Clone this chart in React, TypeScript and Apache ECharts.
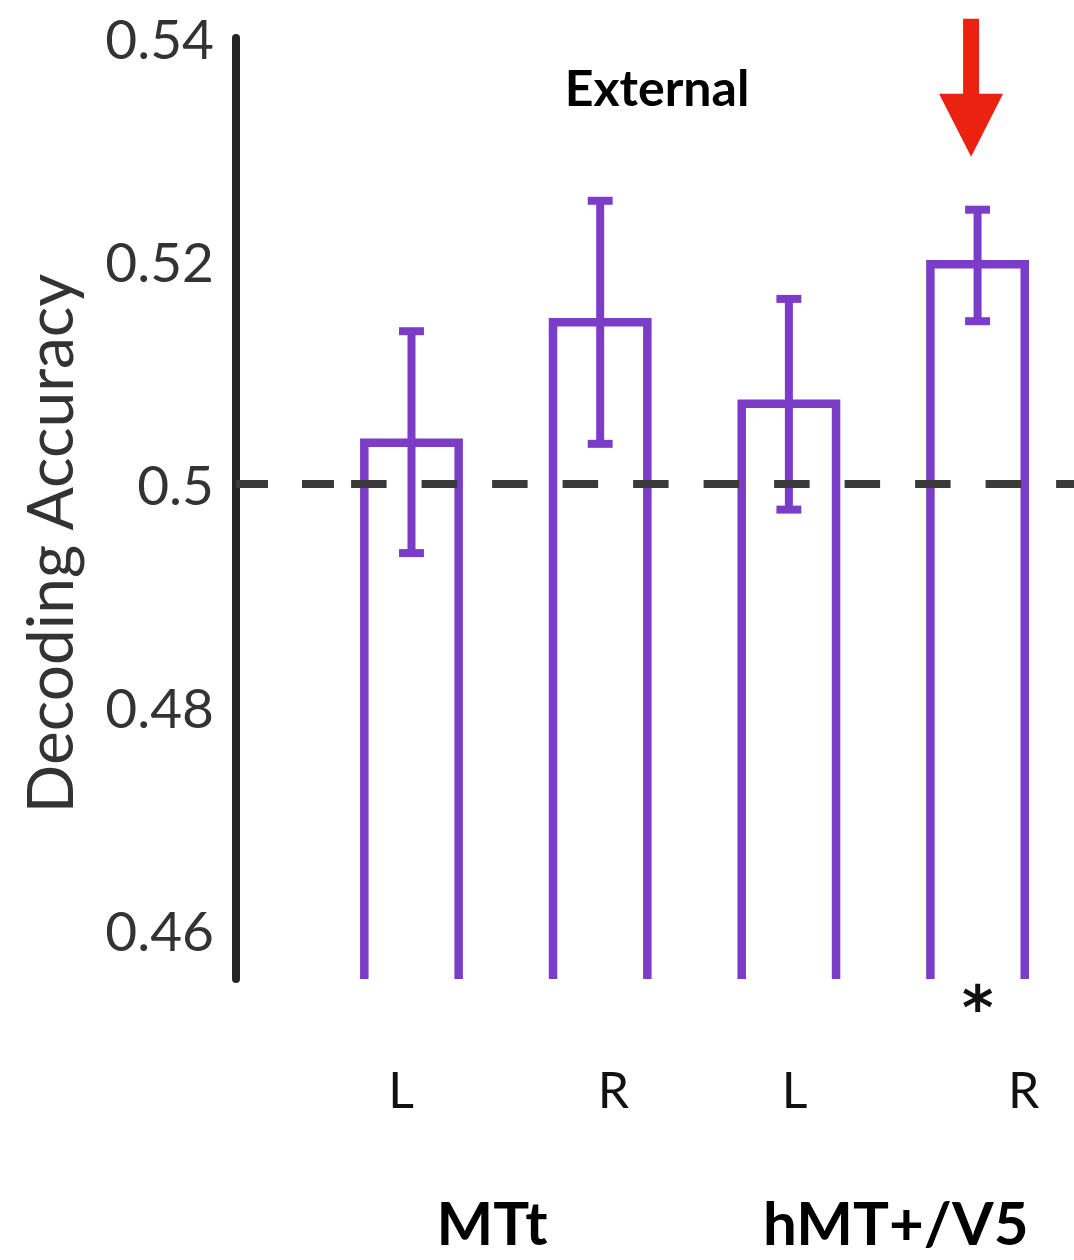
import React, { useEffect, useRef } from "react";
import * as echarts from "echarts";

// ---- data ----
const sides = ["L", "R", "L", "R"];
const groups = ["MTt", "hMT+/V5"];
const groupCenters = [0.5, 2.5];
const means = [0.5037, 0.5145, 0.5072, 0.5197];
const lower = [0.4938, 0.5036, 0.4977, 0.5146];
const upper = [0.5137, 0.5254, 0.5166, 0.5246];
const significant = [false, false, false, true];
const yTicks = [0.46, 0.48, 0.5, 0.52, 0.54];
const chance = 0.5;
const panelTitle = "External";
const yTitle = "Decoding Accuracy";

// ---- layout / style ----
const PURPLE = "#7b3cc7";
const RED = "#ec2210";
const X_MIN = -0.93;
const X_MAX = 3.511;
const Y_MIN = 0.4556;
const Y_MAX = 0.54;
const HALF = 0.25;
const CAP = 0.066;

export default function App() {
  const ref = useRef<HTMLDivElement>(null);
  useEffect(() => {
    if (!ref.current) return;
    const chart = echarts.init(ref.current, undefined, { renderer: "svg" });

    const barData = means.map((m, i) => [i, m, lower[i], upper[i], significant[i] ? 1 : 0]);

    const renderBar = (params: any, api: any) => {
      const i = api.value(0);
      const m = api.value(1);
      const hi = api.value(3);
      const sig = api.value(4);
      const cs = params.coordSys;
      const bottom = cs.y + cs.height;
      const l = api.coord([i - HALF, m]);
      const r = api.coord([i + HALF, m]);
      const children: any[] = [
        {
          type: "polyline",
          shape: { points: [[l[0], bottom], [l[0], l[1]], [r[0], r[1]], [r[0], bottom]] },
          style: { stroke: PURPLE, fill: "none", lineWidth: 8.5, lineJoin: "miter", lineCap: "butt" },
        },
      ];
      if (sig) {
        const c = api.coord([i, hi]);
        const ax = c[0] - 6.5;
        const tip = c[1] - 53;
        children.push({
          type: "polygon",
          shape: {
            points: [
              [ax - 8, tip - 138], [ax + 8, tip - 138], [ax + 8, tip - 63], [ax + 32, tip - 63],
              [ax, tip], [ax - 32, tip - 63], [ax - 8, tip - 63],
            ],
          },
          style: { fill: RED },
        });
        children.push({
          type: "text",
          x: c[0],
          y: bottom + 29,
          style: {
            text: "*", fill: "#111", font: "bold 60px 'DejaVu Sans'",
            align: "center", verticalAlign: "middle",
          },
        });
      }
      return { type: "group", children };
    };

    const renderErr = (params: any, api: any) => {
      const i = api.value(0);
      const lo = api.coord([i, api.value(2)]);
      const hi = api.coord([i, api.value(3)]);
      const w = api.coord([i + CAP, api.value(3)])[0] - hi[0];
      const st = { stroke: PURPLE, lineWidth: 8, lineCap: "butt" };
      return {
        type: "group",
        children: [
          { type: "line", shape: { x1: hi[0], y1: hi[1], x2: lo[0], y2: lo[1] }, style: st },
          { type: "line", shape: { x1: hi[0] - w, y1: hi[1], x2: hi[0] + w, y2: hi[1] }, style: st },
          { type: "line", shape: { x1: lo[0] - w, y1: lo[1], x2: lo[0] + w, y2: lo[1] }, style: st },
        ],
      };
    };

    const shiftRich = (shifts: number[], font: any) => {
      const rich: any = {};
      shifts.forEach((s, k) => {
        rich["s" + k] = { ...font, padding: s < 0 ? [0, -2 * s, 0, 0] : [0, 0, 0, 2 * s] };
      });
      return rich;
    };

    const sideIndex = (v: number) => Math.round(v);
    const groupIndex = (v: number) => {
      let best = 0;
      groupCenters.forEach((g, k) => {
        if (Math.abs(g - v) < Math.abs(groupCenters[best] - v)) best = k;
      });
      return best;
    };

    const option: any = {
      animation: false,
      backgroundColor: "#ffffff",
      grid: { left: 236, right: 0, top: 38, bottom: 281, containLabel: false, outerBoundsMode: "none" },
      xAxis: [
        {
          type: "value",
          min: X_MIN,
          max: X_MAX,
          position: "bottom",
          axisLine: { show: false },
          axisTick: { show: false },
          splitLine: { show: false },
          axisLabel: {
            customValues: sides.map((_, i) => i),
            margin: 85,
            formatter: (v: number) => {
              const k = sideIndex(v);
              return `{s${k}|${sides[k]}}`;
            },
            rich: shiftRich([-10.5, 13.3, 5.8, 46], { fontFamily: "Lato", fontSize: 50, color: "#111", lineHeight: 50 }),
          },
        },
        {
          type: "value",
          min: X_MIN,
          max: X_MAX,
          position: "bottom",
          axisLine: { show: false },
          axisTick: { show: false },
          splitLine: { show: false },
          axisLabel: {
            customValues: groupCenters,
            margin: 213,
            formatter: (v: number) => {
              const k = groupIndex(v);
              return `{s${k}|${groups[k]}}`;
            },
            rich: shiftRich([-13.8, 12.5], { fontFamily: "Lato", fontWeight: "bold", fontSize: 60, color: "#000", lineHeight: 60 }),
          },
        },
      ],
      yAxis: {
        type: "value",
        min: Y_MIN,
        max: Y_MAX,
        name: yTitle,
        nameLocation: "middle",
        nameRotate: 90,
        nameGap: 156,
        nameTextStyle: { fontFamily: "Lato", fontSize: 64, color: "#333", padding: [0, 70, 0, 0] },
        axisLine: { show: true, onZero: false, lineStyle: { color: "#262626", width: 8 } },
        axisTick: { show: false },
        splitLine: { show: false },
        axisLabel: {
          customValues: yTicks,
          margin: 22,
          fontFamily: "Lato",
          fontSize: 55,
          color: "#333",
          formatter: (v: number) => (Math.abs(v - 0.5) < 1e-9 ? "0.5" : v.toFixed(2)),
        },
      },
      graphic: [
        {
          type: "text",
          x: 657,
          y: 87,
          style: {
            text: panelTitle, fill: "#000", font: "bold 50px Lato",
            align: "center", verticalAlign: "middle",
          },
        },
      ],
      series: [
        {
          type: "custom",
          name: "bars",
          renderItem: renderBar,
          data: barData,
          encode: { x: 0, y: 1 },
          z: 2,
          clip: false,
        },
        {
          type: "custom",
          name: "errors",
          renderItem: renderErr,
          data: barData,
          encode: { x: 0, y: [2, 3] },
          z: 3,
          clip: false,
        },
        {
          type: "line",
          name: "chance",
          data: [],
          z: 5,
          markLine: {
            silent: true,
            symbol: "none",
            label: { show: false },
            lineStyle: { color: "#3a3a3a", width: 8, type: [32, 34], cap: "butt" },
            data: [
              [{ coord: [X_MIN, chance] }, { coord: [-0.405, chance] }],
              [
                { coord: [-0.32, chance], lineStyle: { type: [35.5, 35] } },
                { coord: [X_MAX, chance] },
              ],
            ],
          },
        },
      ],
    };
    chart.setOption(option);
    return () => chart.dispose();
  }, []);
  return (
    <div
      ref={ref}
      style={{ position: "absolute", left: 0, top: 0, width: 1074, height: 1260 }}
    />
  );
}
